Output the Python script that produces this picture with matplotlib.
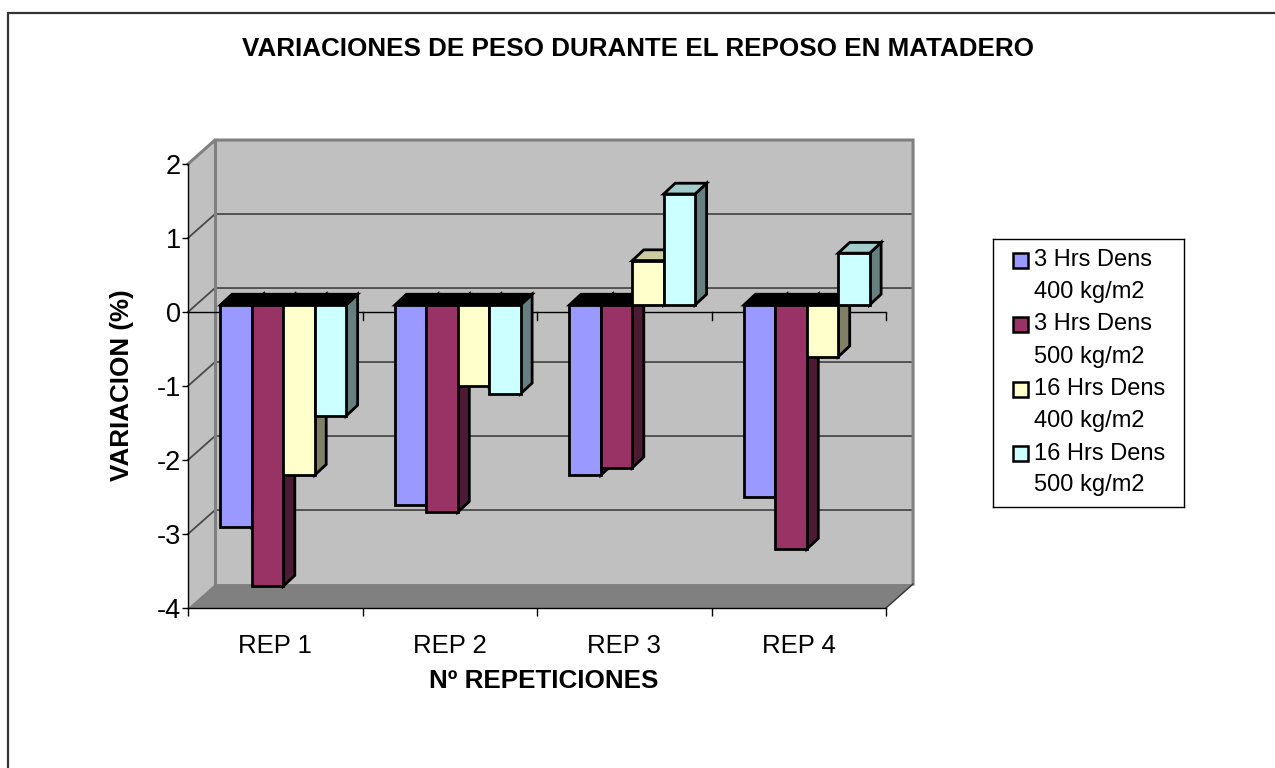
import matplotlib
matplotlib.use('Agg')
import matplotlib.pyplot as plt
from matplotlib.patches import Polygon, Rectangle

plt.rcParams['font.family'] = ['Liberation Sans', 'DejaVu Sans']

# data
categories = ['REP 1', 'REP 2', 'REP 3', 'REP 4']
series_names = ['3 Hrs Dens\n400 kg/m2', '3 Hrs Dens\n500 kg/m2',
                '16 Hrs Dens\n400 kg/m2', '16 Hrs Dens\n500 kg/m2']
dens3_400 = [-3.0, -2.7, -2.3, -2.6]
dens3_500 = [-3.8, -2.8, -2.2, -3.3]
dens16_400 = [-2.3, -1.1, 0.6, -0.7]
dens16_500 = [-1.5, -1.2, 1.5, 0.7]
yticks = [-4, -3, -2, -1, 0, 1, 2]
series = [dens3_400, dens3_500, dens16_400, dens16_500]

face_colors = ['#9999FF', '#993366', '#FFFFCC', '#CCFFFF']
side_colors = ['#4D4D80', '#4D1A33', '#808066', '#668080']
top_colors = ['#7A7ACC', '#7A2952', '#CCCCA3', '#A3CCCC']

# 3d look (in data units)
wall_dx, wall_dy = 0.155, 0.324
bar_off_x, bar_off_y = 0.046, 0.095
bar_dx, bar_dy = 0.066, 0.145
bar_w = 0.18

W, H = 1275, 768
fig = plt.figure(figsize=(W / 100, H / 100), dpi=100)
ax = fig.add_axes([188 / W, (H - 608) / H, 698 / W, 444 / H])
ax.set_facecolor('none')
ax.set_xlim(0, 4)
ax.set_ylim(-4, 2)
ymin, ymax = -4, 2
ncat = len(categories)


def poly(pts, fc, ec='none', lw=0, z=1):
    ax.add_patch(Polygon(pts, closed=True, facecolor=fc, edgecolor=ec,
                         linewidth=lw, zorder=z, clip_on=False, joinstyle='miter'))


# walls
poly([(0, ymin), (wall_dx, ymin + wall_dy), (wall_dx, ymax + wall_dy), (0, ymax)], '#C0C0C0', z=0.1)
poly([(wall_dx, ymin + wall_dy), (ncat + wall_dx, ymin + wall_dy),
      (ncat + wall_dx, ymax + wall_dy), (wall_dx, ymax + wall_dy)], '#C0C0C0', z=0.1)
poly([(0, ymin), (ncat, ymin), (ncat + wall_dx, ymin + wall_dy), (wall_dx, ymin + wall_dy)],
     '#808080', z=0.3)

# gridlines on side and back wall
for v in yticks[1:-1]:
    ax.plot([0, wall_dx, ncat + wall_dx], [v, v + wall_dy, v + wall_dy],
            color='#4a4a4a', lw=1.3, zorder=0.2, clip_on=False)

# wall edges
ax.plot([0, wall_dx, ncat + wall_dx, ncat + wall_dx],
        [ymax, ymax + wall_dy, ymax + wall_dy, ymin + wall_dy],
        color='#808080', lw=2.2, zorder=0.25, clip_on=False, solid_joinstyle='miter')
ax.plot([wall_dx, wall_dx], [ymin + wall_dy, ymax + wall_dy],
        color='#808080', lw=2.2, zorder=0.25, clip_on=False)
ax.plot([ncat, ncat + wall_dx], [ymin, ymin + wall_dy], color='#333333', lw=1,
        zorder=0.35, clip_on=False)

# zero category line with ticks
ax.plot([0, ncat], [0, 0], color='black', lw=1, zorder=0.5)
for k in range(1, ncat + 1):
    ax.plot([k, k], [0, -0.11], color='black', lw=1, zorder=0.5, clip_on=False)

# bars
z = 1
for i in range(ncat):
    for j, vals in enumerate(series):
        v = vals[i]
        x0 = i + 0.5 + bar_off_x - 2 * bar_w + j * bar_w
        b = bar_off_y
        lo, hi = min(b, b + v), max(b, b + v)
        x1 = x0 + bar_w
        poly([(x1, lo), (x1, hi), (x1 + bar_dx, hi + bar_dy), (x1 + bar_dx, lo + bar_dy)],
             side_colors[j], 'black', 2.0, z)
        top_fc = top_colors[j] if v > 0 else 'black'
        poly([(x0, hi), (x1, hi), (x1 + bar_dx, hi + bar_dy), (x0 + bar_dx, hi + bar_dy)],
             top_fc, 'black', 2.0, z + 0.1)
        poly([(x0, lo), (x1, lo), (x1, hi), (x0, hi)], face_colors[j], 'black', 2.0, z + 0.2)
        z += 1

# axes
for s in ['top', 'right']:
    ax.spines[s].set_visible(False)
ax.spines['left'].set_linewidth(1)
ax.spines['bottom'].set_linewidth(1)
ax.spines['left'].set_zorder(0.6)
ax.spines['bottom'].set_zorder(0.6)
ax.set_yticks(yticks)
ax.set_yticklabels([str(t) for t in yticks], fontsize=19.5)
ax.tick_params(axis='y', direction='out', length=4, width=1, pad=1)
ax.set_xticks(range(ncat + 1))
ax.set_xticklabels([])
ax.set_xticks([i + 0.5 for i in range(ncat)], minor=True)
ax.set_xticklabels(categories, minor=True, fontsize=18.5)
ax.tick_params(axis='x', which='major', direction='out', length=6, width=1)
ax.tick_params(axis='x', which='minor', length=0, pad=19)

fig.text(0.5, 1 - 49 / H, 'VARIACIONES DE PESO DURANTE EL REPOSO EN MATADERO',
         ha='center', va='center', fontsize=18.7, fontweight='bold')
fig.text(122 / W, 1 - 385 / H, 'VARIACION (%)', rotation=90, ha='center', va='center',
         fontsize=18.7, fontweight='bold')
fig.text(544 / W, 1 - 681 / H, 'Nº REPETICIONES', ha='center', va='center',
         fontsize=18.7, fontweight='bold')

# legend
lax = fig.add_axes([993 / W, (H - 507) / H, 191 / W, 268 / H])
lax.set_xlim(0, 191)
lax.set_ylim(268, 0)
lax.set_xticks([])
lax.set_yticks([])
for s in lax.spines.values():
    s.set_linewidth(1)
    s.set_color('black')
for k, name in enumerate(series_names):
    y = 21 + k * 64.5
    lax.add_patch(Rectangle((20, y - 7.5), 15, 15, facecolor=face_colors[k],
                            edgecolor='black', linewidth=1.8))
    for m, line in enumerate(name.split('\n')):
        lax.text(41, y + m * 32, line, ha='left', va='center', fontsize=17)

# outer border
fig.patches.append(Rectangle((8 / W, -0.1), 1.2, (H - 13) / H + 0.1, transform=fig.transFigure,
                             fill=False, edgecolor='#333333', linewidth=1.6))

fig.savefig('out.png', dpi=100)
